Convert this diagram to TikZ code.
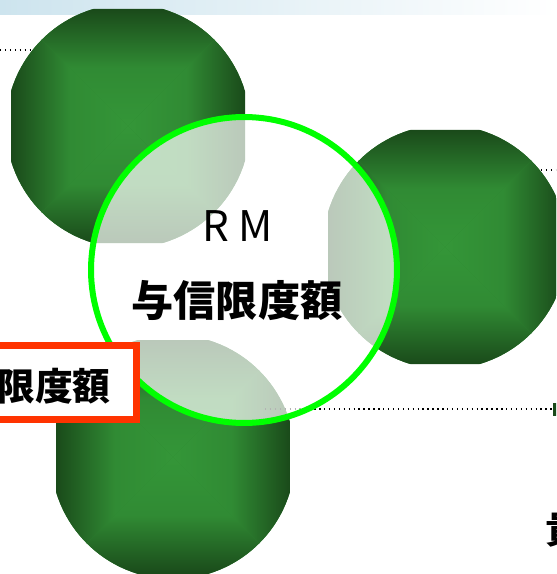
\documentclass[tikz,border=0pt]{standalone}
\usepackage{fontspec}
\newfontfamily\jpfont{Noto Sans CJK JP}

\definecolor{gdark}{RGB}{26,74,26}
\definecolor{glite}{RGB}{52,150,56}
\definecolor{ringgreen}{RGB}{0,255,0}
\definecolor{boxred}{RGB}{255,51,0}
\definecolor{bandblue}{RGB}{205,228,238}

% bevelled green ball: circle cut by a square, four shaded facets
\newcommand{\bevelball}[2]{%
  \begin{scope}
    \clip (#1,#2) circle (122);
    \clip (#1-117,#2-117) rectangle (#1+117,#2+117);
    \fill[glite!80!gdark] (#1-117,#2-117) rectangle (#1+117,#2+117);
    \shade[top color=gdark, bottom color=glite, middle color=glite!85!gdark]
      (#1-117,#2-117) -- (#1+117,#2-117) -- (#1,#2) -- cycle;
    \shade[top color=glite, bottom color=gdark, middle color=glite!85!gdark]
      (#1-117,#2+117) -- (#1+117,#2+117) -- (#1,#2) -- cycle;
    \shade[left color=gdark, right color=glite, middle color=glite!85!gdark]
      (#1-117,#2-117) -- (#1-117,#2+117) -- (#1,#2) -- cycle;
    \shade[left color=glite, right color=gdark, middle color=glite!85!gdark]
      (#1+117,#2-117) -- (#1+117,#2+117) -- (#1,#2) -- cycle;
  \end{scope}}

\begin{document}
\begin{tikzpicture}[x=0.02cm, y=-0.02cm]
  \useasboundingbox (0,0) rectangle (556,574);
  \clip (0,0) rectangle (556,574);

  % band along the top
  \shade[left color=bandblue, right color=white] (0,0) rectangle (556,15);

  % leader lines behind the balls
  \coordinate (tl0) at (0,50);
  \coordinate (tl1) at (42,50);
  \coordinate (tr0) at (541,170);
  \coordinate (tr1) at (556,170);
  \draw[dotted, thick] (tl0) -- (tl1);
  \draw[dotted, thick] (tr0) -- (tr1);

  % green balls
  \bevelball{128}{126}
  \bevelball{445}{247}
  \bevelball{173}{457}

  % lower leader line with its end mark
  \coordinate (bl0) at (265,409);
  \coordinate (bl1) at (553,409);
  \draw[dotted, thick] (bl0) -- (bl1);
  \fill[gdark] (553,403) rectangle (558,416);

  % centre ring
  \node (ring) [circle, draw=ringgreen, line width=0.12cm, fill=white, fill opacity=0.7,
    inner sep=0, minimum size=6.12cm] at (244,270) {};
  \node (rmtitle) [font=\jpfont\fontsize{24pt}{24pt}\selectfont] at (238,226) {R M};
  \node (rmname) [font=\jpfont\bfseries\fontsize{24pt}{24pt}\selectfont] at (237,301) {与信限度額};

  % red label box
  \node (limitbox) [draw=boxred, line width=0.14cm, fill=white, inner sep=0,
    minimum width=3.4cm, minimum height=1.48cm, anchor=east] at (139.5,382.5) {};
  \node (limittext) [font=\jpfont\bfseries\fontsize{21.5pt}{21.5pt}\selectfont,
    inner sep=0, anchor=east] at (111,386) {限度額};

  % cut-off label at the lower right
  \node (edgetext) [font=\jpfont\bfseries\fontsize{21.5pt}{21.5pt}\selectfont,
    inner sep=0, anchor=west] at (545,529) {貴};
\end{tikzpicture}
\end{document}
